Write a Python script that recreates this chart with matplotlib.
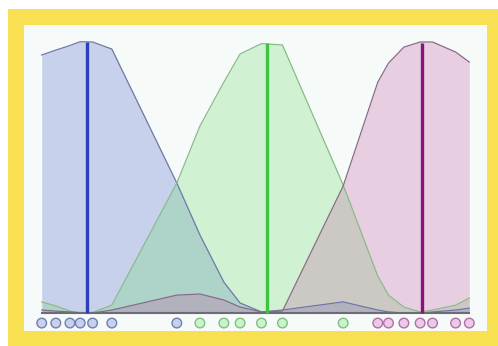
import numpy as np
import matplotlib
matplotlib.use('Agg')
import matplotlib.pyplot as plt
from matplotlib.patches import Rectangle

# sample positions (sorted) and which cluster each one belongs to
x_pts = np.array([0.0, 3.3, 6.6, 9.0, 11.9, 16.4, 31.6, 37.0, 42.6, 46.4,
                  51.4, 56.3, 70.5, 78.6, 81.1, 84.7, 88.5, 91.4, 96.8, 100.0])
cluster = [0, 0, 0, 0, 0, 0, 0, 1, 1, 1, 1, 1, 1, 2, 2, 2, 2, 2, 2, 2]

# responsibility-weighted densities of each component, evaluated at the samples
dens_blue = [0.951, 0.969, 0.986, 1.0, 0.999, 0.973, 0.479, 0.288, 0.114, 0.037,
             0.004, 0.011, 0.041, 0.011, 0.004, 0.0, 0.0, 0.004, 0.011, 0.018]
dens_green = [0.041, 0.026, 0.007, 0.002, 0.002, 0.029, 0.479, 0.689, 0.851, 0.955,
              0.993, 0.988, 0.472, 0.136, 0.066, 0.022, 0.004, 0.011, 0.029, 0.055]
dens_pink = [0.011, 0.007, 0.004, 0.0, 0.0, 0.011, 0.066, 0.070, 0.048, 0.022,
             0.004, 0.007, 0.468, 0.851, 0.921, 0.980, 0.999, 0.999, 0.962, 0.925]

# component means and their peak heights
means = [10.6, 52.8, 89.0]
peaks = [1.0, 0.997, 0.997]

fill_cols = ['#3c5ac8', '#64dc64', '#be50a0']
edge_cols = ['#6e78a8', '#8abb8a', '#8a6a88']
mean_cols = ['#2b3fb8', '#3ec43e', '#8b1080']
pt_face = ['#c8d0ee', '#ccf2cc', '#eec8e8']
pt_edge = ['#7080b0', '#80c080', '#b070a8']

W, H = 498, 346
fig = plt.figure(figsize=(W / 100, H / 100), dpi=100)
fig.patch.set_facecolor('white')
fig.patches.append(Rectangle((8 / W, 0), 490 / W, 337 / H, transform=fig.transFigure,
                             facecolor='#f9df52', edgecolor='none', zorder=0))

ax = fig.add_axes([24 / W, 15 / H, 463 / W, 306 / H])
ax.set_zorder(2)
ax.set_facecolor('#f6faf8')

for dens, fc, ec in zip([dens_blue, dens_green, dens_pink], fill_cols, edge_cols):
    ax.fill_between(x_pts, 0, dens, color=fc, alpha=0.25, linewidth=0)
    ax.plot(x_pts, dens, color=ec, lw=0.9)

ax.plot([x_pts.min(), x_pts.max()], [0, 0], color='#6c6c78', lw=1.5)
ax.vlines(means, 0, peaks, colors=mean_cols, lw=2.4)

ax.scatter(x_pts, np.full(len(x_pts), -0.037), s=48,
           c=[pt_face[k] for k in cluster], edgecolors=[pt_edge[k] for k in cluster],
           linewidths=1.0, zorder=5)

ax.set_xlim(-4.14, 104.14)
ax.set_ylim(-0.0663, 1.0616)
ax.set_xticks([])
ax.set_yticks([])
for s in ax.spines.values():
    s.set_visible(False)

fig.savefig('out.png', dpi=100)
